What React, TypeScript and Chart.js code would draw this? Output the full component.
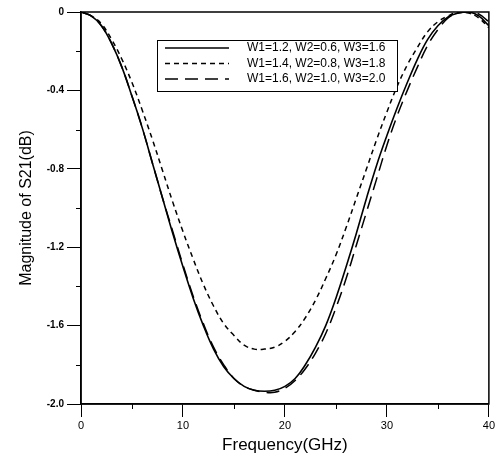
import React, { useEffect, useRef } from "react";
import { Chart, registerables } from "chart.js";

Chart.register(...registerables);

const frequency = [0,1,2,3,4,5,6,7,8,9,10,11,12,13,14,15,16,17,18,19,20,21,22,23,24,25,26,27,28,29,30,31,32,33,34,35,36,37,38,39,40];

const seriesA = [0,-0.02,-0.07,-0.16,-0.28,-0.43,-0.59,-0.77,-0.95,-1.13,-1.30,-1.46,-1.60,-1.72,-1.81,-1.87,-1.91,-1.93,-1.935,-1.93,-1.91,-1.87,-1.80,-1.71,-1.60,-1.46,-1.30,-1.13,-0.95,-0.78,-0.63,-0.49,-0.36,-0.24,-0.14,-0.07,-0.025,-0.005,0,-0.02,-0.07];
const seriesB = [0,-0.02,-0.06,-0.14,-0.24,-0.36,-0.50,-0.65,-0.81,-0.97,-1.12,-1.26,-1.39,-1.50,-1.59,-1.65,-1.70,-1.72,-1.72,-1.71,-1.68,-1.63,-1.56,-1.47,-1.36,-1.24,-1.10,-0.95,-0.80,-0.65,-0.51,-0.38,-0.27,-0.18,-0.10,-0.05,-0.02,0,-0.005,-0.03,-0.08];
const seriesC = [0,-0.02,-0.07,-0.16,-0.28,-0.43,-0.59,-0.77,-0.95,-1.12,-1.29,-1.45,-1.59,-1.71,-1.80,-1.87,-1.91,-1.93,-1.94,-1.94,-1.92,-1.88,-1.82,-1.74,-1.64,-1.51,-1.36,-1.19,-1.02,-0.85,-0.68,-0.53,-0.40,-0.28,-0.17,-0.09,-0.03,-0.005,0,-0.01,-0.05];

const seriesLabels = ["W1=1.2, W2=0.6, W3=1.6", "W1=1.4, W2=0.8, W3=1.8", "W1=1.6, W2=1.0, W3=2.0"];

const xTickValues = [0, 10, 20, 30, 40];
const xTickLabels = ["0", "10", "20", "30", "40"];
const xMinorTicks = [5, 15, 25, 35];
const yTickValues = [0, -0.4, -0.8, -1.2, -1.6, -2.0];
const yTickLabels = ["0", "-0.4", "-0.8", "-1.2", "-1.6", "-2.0"];
const yMinorTicks = [-0.2, -0.6, -1.0, -1.4, -1.8];

const FONT = "Arial, 'Liberation Sans', sans-serif";

const framePlugin = {
  id: "frame",
  afterDraw(chart: any) {
    const { ctx, chartArea: a, scales } = chart;
    const x = scales.x;
    const y = scales.y;
    ctx.save();
    ctx.strokeStyle = "#000";
    ctx.lineWidth = 1.5;
    ctx.strokeRect(a.left, a.top, a.right - a.left, a.bottom - a.top);
    ctx.lineWidth = 1;
    ctx.beginPath();
    for (const v of xMinorTicks) {
      const px = Math.round(x.getPixelForValue(v)) + 0.5;
      ctx.moveTo(px, a.bottom);
      ctx.lineTo(px, a.bottom + 5);
    }
    for (const v of yMinorTicks) {
      const py = Math.round(y.getPixelForValue(v)) + 0.5;
      ctx.moveTo(a.left - 5, py);
      ctx.lineTo(a.left, py);
    }
    ctx.stroke();

    // legend box
    const bx = a.left + 76;
    const by = a.top + 28;
    const bw = 240;
    const bh = 51;
    ctx.fillStyle = "#fff";
    ctx.fillRect(bx, by, bw, bh);
    ctx.lineWidth = 1;
    ctx.strokeRect(bx + 0.5, by + 0.5, bw, bh);
    ctx.font = `12px ${FONT}`;
    ctx.textBaseline = "middle";
    chart.data.datasets.forEach((ds: any, i: number) => {
      const ry = by + 8 + i * 15.5;
      ctx.save();
      ctx.strokeStyle = ds.borderColor;
      ctx.lineWidth = ds.borderWidth;
      ctx.setLineDash(ds.borderDash || []);
      ctx.beginPath();
      ctx.moveTo(bx + 8, ry);
      ctx.lineTo(bx + 72, ry);
      ctx.stroke();
      ctx.restore();
      ctx.fillStyle = "#000";
      ctx.textAlign = "left";
      ctx.fillText(ds.label, bx + 90, ry);
    });
    ctx.restore();
  },
};

export default function App() {
  const ref = useRef<HTMLCanvasElement>(null);
  useEffect(() => {
    if (!ref.current) return;
    const mk = (vals: number[]) => frequency.map((f, i) => ({ x: f, y: vals[i] }));
    const chart = new Chart(ref.current, {
      type: "line",
      data: {
        datasets: [
          { label: seriesLabels[0], data: mk(seriesA), borderColor: "#000", borderWidth: 1.6, borderDash: [], pointRadius: 0, tension: 0.4, fill: false },
          { label: seriesLabels[1], data: mk(seriesB), borderColor: "#000", borderWidth: 1.5, borderDash: [5, 4], pointRadius: 0, tension: 0.4, fill: false },
          { label: seriesLabels[2], data: mk(seriesC), borderColor: "#000", borderWidth: 1.5, borderDash: [13, 7], pointRadius: 0, tension: 0.4, fill: false },
        ],
      },
      options: {
        animation: false,
        responsive: false,
        maintainAspectRatio: false,
        layout: { padding: { top: 12, right: 8, left: 0, bottom: 0 } },
        plugins: { legend: { display: false }, tooltip: { enabled: false } },
        scales: {
          x: {
            type: "linear",
            min: 0,
            max: 40,
            afterBuildTicks: (s: any) => { s.ticks = xTickValues.map((v) => ({ value: v })); },
            afterFit: (s: any) => { s.height = 58; },
            ticks: {
              color: "#000",
              font: { family: FONT, size: 11 },
              padding: 2,
              maxRotation: 0,
              callback: (v: any) => xTickLabels[xTickValues.indexOf(Number(v))] ?? "",
            },
            grid: { drawOnChartArea: false, drawTicks: true, tickLength: 13, color: "#000", lineWidth: 1 },
            border: { display: true, color: "#000", width: 1.5 },
            title: { display: true, text: "Frequency(GHz)", color: "#000", font: { family: FONT, size: 17 }, padding: { top: 0, bottom: 6 } },
          },
          y: {
            type: "linear",
            min: -2.0,
            max: 0,
            afterBuildTicks: (s: any) => { s.ticks = yTickValues.map((v) => ({ value: v })); },
            afterFit: (s: any) => { s.width = 81; },
            ticks: {
              color: "#000",
              font: { family: FONT, size: 10, weight: "bold" },
              padding: 3,
              callback: (v: any) => {
                const i = yTickValues.findIndex((t) => Math.abs(t - Number(v)) < 1e-6);
                return i >= 0 ? yTickLabels[i] : "";
              },
            },
            grid: { drawOnChartArea: false, drawTicks: true, tickLength: 14, color: "#000", lineWidth: 1 },
            border: { display: true, color: "#000", width: 1.5 },
            title: { display: true, text: "Magnitude of S21(dB)", color: "#000", font: { family: FONT, size: 16 }, padding: { top: 17, bottom: 0 } },
          },
        },
      },
      plugins: [framePlugin],
    });
    return () => chart.destroy();
  }, []);
  return (
    <div style={{ position: "fixed", left: 0, top: 0, width: 497, height: 462, background: "#fff" }}>
      <canvas ref={ref} width={497} height={462} style={{ width: 497, height: 462 }} />
    </div>
  );
}
